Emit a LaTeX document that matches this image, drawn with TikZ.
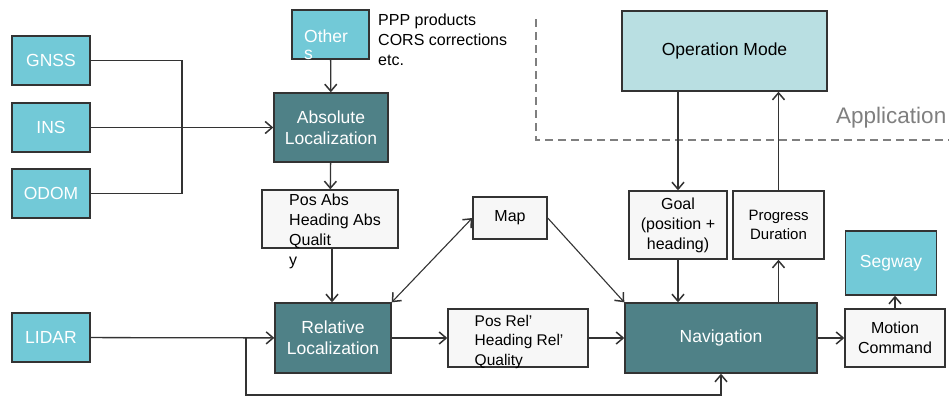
\documentclass[tikz,border=0pt]{standalone}
\usepackage{fontspec}
\setmainfont{Liberation Sans}
\usetikzlibrary{arrows.meta}
\definecolor{srccol}{HTML}{72C9D7}
\definecolor{proccol}{HTML}{4F8187}
\definecolor{modecol}{HTML}{B9DFE2}
\definecolor{infocol}{HTML}{F7F7F7}
\definecolor{linecol}{HTML}{333333}
\definecolor{appcol}{HTML}{7F7F7F}
\begin{document}
\begin{tikzpicture}[x=1pt, y=-1pt,
    box/.style = {shape=rectangle, draw=linecol, line width=1.4pt,
      inner sep=0pt, align=center},
    src/.style = {box, fill=srccol, text=white,
      font=\fontsize{17.5}{21}\selectfont},
    proc/.style = {box, fill=proccol, text=white,
      font=\fontsize{17.5}{21}\selectfont},
    info/.style = {box, fill=infocol, text=black,
      font=\fontsize{16}{20}\selectfont},
    txt/.style = {inner sep=0pt, align=left, anchor=north west,
      font=\fontsize{16}{20}\selectfont},
    barb/.tip = {Straight Barb[length=7pt,width=12pt,line width=1.5pt]},
    conn/.style = {draw=linecol, line width=1.3pt, -barb}]
    \useasboundingbox (0,0) rectangle (949,397);
    \draw[appcol, line width=1.3pt, dash pattern=on 8pt off 5pt]
        (536,19) -- (536,140) -- (949,140);
    \node[txt, text=appcol, font=\fontsize{22.5}{26}\selectfont] (app) at (836,107) {Application};
    \node[src, minimum width=78pt, minimum height=49pt] (gnss) at (51,60.5) {GNSS};
    \node[src, minimum width=78pt, minimum height=49pt] (ins) at (51,127.5) {INS};
    \node[src, minimum width=78pt, minimum height=49pt] (odom) at (51,193.5) {ODOM};
    \node[src, minimum width=78pt, minimum height=49pt] (lidar) at (51,337.5) {LIDAR};
    \node[src, minimum width=77pt, minimum height=49pt] (others) at (330.5,34.5) {};
    \node[txt, text=white, font=\fontsize{17.5}{17.5}\selectfont] (others-t) at (304,29.3) {Other\\s};
    \node[txt] (ppp) at (378,14) {PPP products\\CORS corrections\\etc.};
    \node[proc, minimum width=114pt, minimum height=69pt] (absloc) at (331,127.5) {Absolute\\Localization};
    \node[info, minimum width=136pt, minimum height=58pt] (posabs) at (330,219) {};
    \node[txt] (posabs-t) at (289,194) {Pos Abs\\Heading Abs\\Qualit\\y};
    \node[info, minimum width=74pt, minimum height=42pt] (map) at (510,218) {Map};
    \node[box, fill=modecol, minimum width=205pt, minimum height=80pt,
        font=\fontsize{17.5}{21}\selectfont] (opmode) at (724.5,51) {Operation Mode};
    \node[info, minimum width=98pt, minimum height=68pt] (goal) at (678,225) {Goal\\(position +\\heading)};
    \node[info, minimum width=91pt, minimum height=68pt,
        font=\fontsize{15}{18.5}\selectfont] (progress) at (778.5,225) {Progress\\Duration};
    \node[src, minimum width=91pt, minimum height=64pt] (segway) at (891,263) {Segway};
    \node[proc, minimum width=116pt, minimum height=70pt] (relloc) at (333,338) {Relative\\Localization};
    \node[info, minimum width=140pt, minimum height=58pt] (posrel) at (518,338) {};
    \node[txt, font=\fontsize{15.5}{19.5}\selectfont] (posrel-t) at (474.5,315) {Pos Rel’\\Heading Rel’\\Quality};
    \node[proc, minimum width=192pt, minimum height=70pt] (nav) at (721,338) {Navigation};
    \node[info, minimum width=100pt, minimum height=58pt] (motion) at (895,338) {Motion\\Command};
    \coordinate (bus) at (182,127.5);
    \coordinate (split) at (246,338);
    \draw[draw=linecol, line width=1.3pt] (gnss.east) -| (bus) |- (odom.east);
    \draw[conn] (ins) -- (absloc);
    \draw[conn] (others) -- (absloc);
    \draw[conn] (absloc) -- (posabs);
    \draw[conn] (posabs.south -| relloc.north) ++(-1,0) -- ([xshift=-1pt]relloc.north);
    \draw[conn] (lidar) -- (relloc);
    \draw[conn] (split) -- (246,395) -| (nav.south);
    \draw[conn, barb-barb, line width=1.1pt] (relloc.north east) -- (map.west);
    \draw[conn, line width=1.1pt] (map.east) -- (nav.north west);
    \draw[conn] (relloc) -- (posrel);
    \draw[conn] (posrel) -- (nav);
    \draw[conn] (nav) -- (motion);
    \draw[conn] (motion.north) -- (motion.north |- segway.south);
    \draw[conn] (goal.north |- opmode.south) -- (goal.north);
    \draw[conn] (goal.south) -- (goal.south |- nav.north);
    \draw[conn] (progress.south |- nav.north) -- (progress.south);
    \draw[conn] (progress.north) -- (progress.north |- opmode.south);
\end{tikzpicture}
\end{document}
